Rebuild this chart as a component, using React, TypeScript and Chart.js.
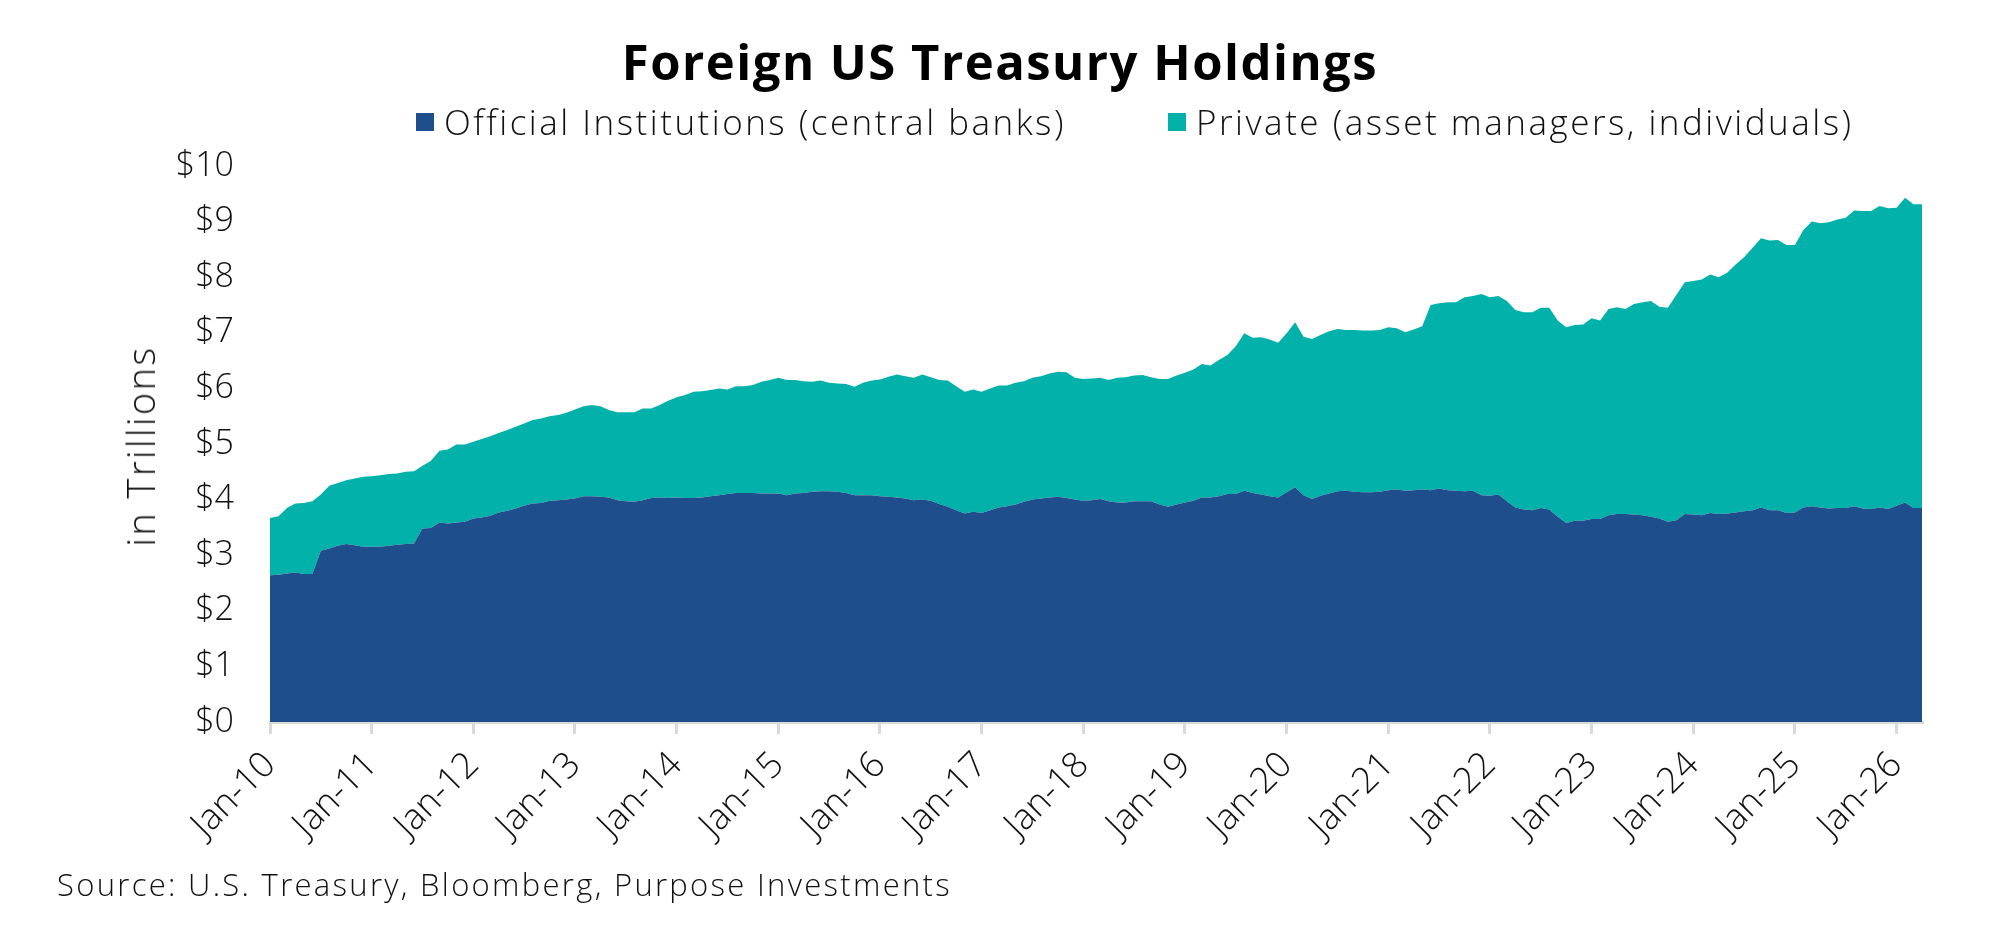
import React, { useEffect, useRef } from 'react';
import { Chart, registerables } from 'chart.js';

Chart.register(...registerables);

// monthly, Jan-10 .. Apr-26, $ trillions
const official = [
  2.64, 2.65, 2.67, 2.69, 2.66, 2.66, 3.08, 3.12, 3.17, 3.2, 3.18, 3.15, // 2010
  3.15, 3.15, 3.17, 3.19, 3.2, 3.21, 3.48, 3.49, 3.59, 3.57, 3.59, 3.6, // 2011
  3.66, 3.68, 3.71, 3.77, 3.8, 3.84, 3.89, 3.93, 3.94, 3.98, 3.99, 4.0, // 2012
  4.02, 4.06, 4.06, 4.05, 4.04, 3.99, 3.97, 3.96, 3.99, 4.03, 4.04, 4.03, // 2013
  4.04, 4.03, 4.03, 4.04, 4.06, 4.08, 4.1, 4.12, 4.12, 4.12, 4.11, 4.11, // 2014
  4.11, 4.08, 4.11, 4.12, 4.14, 4.15, 4.15, 4.14, 4.12, 4.08, 4.08, 4.08, // 2015
  4.06, 4.05, 4.04, 4.02, 3.99, 4.0, 3.98, 3.92, 3.87, 3.81, 3.75, 3.78, // 2016
  3.76, 3.81, 3.86, 3.88, 3.91, 3.96, 4.0, 4.02, 4.04, 4.05, 4.03, 4.0, // 2017
  3.98, 3.99, 4.01, 3.97, 3.95, 3.95, 3.97, 3.97, 3.97, 3.91, 3.87, 3.91, // 2018
  3.95, 3.98, 4.04, 4.04, 4.06, 4.1, 4.1, 4.16, 4.12, 4.09, 4.06, 4.04, // 2019
  4.13, 4.22, 4.08, 4.01, 4.07, 4.11, 4.15, 4.16, 4.14, 4.13, 4.13, 4.14, // 2020
  4.17, 4.18, 4.16, 4.17, 4.18, 4.17, 4.2, 4.17, 4.16, 4.15, 4.16, 4.08, // 2021
  4.07, 4.09, 3.97, 3.86, 3.82, 3.81, 3.85, 3.82, 3.69, 3.58, 3.62, 3.62, // 2022
  3.65, 3.65, 3.72, 3.74, 3.74, 3.73, 3.72, 3.69, 3.66, 3.6, 3.63, 3.74, // 2023
  3.73, 3.72, 3.76, 3.74, 3.75, 3.77, 3.79, 3.81, 3.86, 3.81, 3.81, 3.76, // 2024
  3.77, 3.86, 3.88, 3.86, 3.84, 3.85, 3.85, 3.88, 3.84, 3.83, 3.86, 3.83, // 2025
  3.89, 3.95, 3.85, 3.85, // 2026
];

// official + private
const total = [
  3.67, 3.7, 3.85, 3.93, 3.94, 3.97, 4.09, 4.25, 4.3, 4.35, 4.38, 4.41, // 2010
  4.42, 4.44, 4.46, 4.47, 4.5, 4.51, 4.61, 4.7, 4.88, 4.9, 4.99, 4.99, // 2011
  5.04, 5.09, 5.14, 5.2, 5.25, 5.31, 5.37, 5.43, 5.46, 5.5, 5.52, 5.56, // 2012
  5.62, 5.68, 5.7, 5.68, 5.61, 5.57, 5.57, 5.57, 5.64, 5.64, 5.7, 5.78, // 2013
  5.84, 5.88, 5.94, 5.95, 5.97, 6.0, 5.98, 6.04, 6.04, 6.06, 6.12, 6.15, // 2014
  6.19, 6.15, 6.15, 6.13, 6.12, 6.14, 6.1, 6.09, 6.08, 6.03, 6.1, 6.14, // 2015
  6.16, 6.21, 6.25, 6.22, 6.19, 6.25, 6.2, 6.15, 6.14, 6.04, 5.94, 5.98, // 2016
  5.94, 6.0, 6.05, 6.05, 6.1, 6.13, 6.19, 6.22, 6.27, 6.3, 6.29, 6.19, // 2017
  6.17, 6.18, 6.19, 6.15, 6.19, 6.2, 6.23, 6.24, 6.2, 6.17, 6.17, 6.23, // 2018
  6.28, 6.34, 6.44, 6.41, 6.51, 6.6, 6.76, 6.99, 6.91, 6.92, 6.88, 6.82, // 2019
  6.99, 7.19, 6.93, 6.89, 6.96, 7.03, 7.07, 7.05, 7.05, 7.04, 7.04, 7.05, // 2020
  7.1, 7.08, 7.01, 7.06, 7.12, 7.5, 7.53, 7.55, 7.55, 7.64, 7.66, 7.7, // 2021
  7.64, 7.66, 7.57, 7.41, 7.37, 7.37, 7.45, 7.45, 7.22, 7.1, 7.14, 7.15, // 2022
  7.26, 7.22, 7.43, 7.46, 7.43, 7.52, 7.55, 7.57, 7.47, 7.45, 7.68, 7.91, // 2023
  7.93, 7.96, 8.05, 8.0, 8.08, 8.23, 8.36, 8.53, 8.7, 8.66, 8.67, 8.58, // 2024
  8.58, 8.85, 9.0, 8.97, 8.99, 9.04, 9.07, 9.2, 9.19, 9.19, 9.28, 9.24, // 2025
  9.25, 9.43, 9.31, 9.31, // 2026
];

const monthNames = ['Jan', 'Feb', 'Mar', 'Apr', 'May', 'Jun', 'Jul', 'Aug', 'Sep', 'Oct', 'Nov', 'Dec'];
const months = official.map(
  (_, i) => `${monthNames[i % 12]}-${String(10 + Math.floor(i / 12)).padStart(2, '0')}`
);

const yTicks = [0, 1, 2, 3, 4, 5, 6, 7, 8, 9, 10];

const BLUE = '#1f4e8c';
const TEAL = '#02b2aa';
const FONT = "'Open Sans', sans-serif";

export default function App() {
  const canvasRef = useRef<HTMLCanvasElement>(null);
  const chartRef = useRef<Chart | null>(null);

  useEffect(() => {
    if (!canvasRef.current) return;
    if (chartRef.current) chartRef.current.destroy();

    chartRef.current = new Chart(canvasRef.current, {
      type: 'line',
      data: {
        labels: months,
        datasets: [
          {
            label: 'Official Institutions (central banks)',
            data: official,
            backgroundColor: BLUE,
            borderWidth: 0,
            pointRadius: 0,
            fill: 'origin',
          },
          {
            label: 'Private (asset managers, individuals)',
            data: total,
            backgroundColor: TEAL,
            borderWidth: 0,
            pointRadius: 0,
            fill: '-1',
          },
        ],
      },
      options: {
        responsive: false,
        animation: false,
        layout: { padding: { top: 166, right: 78, bottom: 91, left: 100 } },
        plugins: {
          legend: { display: false },
          title: { display: false },
          tooltip: { enabled: false },
        },
        scales: {
          x: {
            grid: {
              drawOnChartArea: false,
              drawTicks: true,
              tickLength: 12,
              color: '#d9d9d9',
              lineWidth: 3,
            },
            border: { display: true, color: '#d9d9d9', width: 3 },
            ticks: {
              autoSkip: false,
              maxRotation: 45,
              minRotation: 45,
              padding: 10,
              color: '#111',
              font: { family: FONT, size: 36, weight: 300 },
              callback: function (value) {
                const l = this.getLabelForValue(value as number);
                return l.startsWith('Jan') ? l : null;
              },
            },
            afterFit: (scale) => {
              scale.height = 130;
            },
          },
          y: {
            min: 0,
            max: 10,
            afterBuildTicks: (scale) => {
              scale.ticks = yTicks.map((v) => ({ value: v }));
            },
            grid: { display: false, drawTicks: false },
            border: { display: false },
            ticks: {
              padding: 36,
              color: '#111',
              font: { family: FONT, size: 34, weight: 300 },
              callback: (v) => '$' + v,
            },
            afterFit: (scale) => {
              scale.width = 170;
            },
          },
        },
      },
    });

    return () => {
      if (chartRef.current) {
        chartRef.current.destroy();
        chartRef.current = null;
      }
    };
  }, []);

  const legendText: React.CSSProperties = {
    position: 'absolute',
    top: 100,
    fontFamily: FONT,
    fontWeight: 300,
    fontSize: 35,
    letterSpacing: '2.5px',
    lineHeight: '44px',
    color: '#111',
    whiteSpace: 'nowrap',
    display: 'flex',
    alignItems: 'center',
  };
  const box = (c: string): React.CSSProperties => ({
    display: 'inline-block',
    width: 18,
    height: 18,
    background: c,
    marginRight: 10,
  });

  return (
    <div
      style={{
        position: 'absolute',
        left: 0,
        top: 0,
        width: 2000,
        height: 943,
        background: '#fff',
        overflow: 'hidden',
      }}
    >
      <canvas ref={canvasRef} width={2000} height={943} />
      <div
        style={{
          position: 'absolute',
          top: 30,
          left: 0,
          width: 2000,
          textAlign: 'center',
          fontFamily: FONT,
          fontWeight: 700,
          fontSize: 49,
          letterSpacing: '1.5px',
          lineHeight: '62px',
          color: '#000',
        }}
      >
        Foreign US Treasury Holdings
      </div>
      <div style={{ ...legendText, left: 416 }}>
        <span style={box(BLUE)} />
        Official Institutions (central banks)
      </div>
      <div style={{ ...legendText, left: 1168 }}>
        <span style={box(TEAL)} />
        Private (asset managers, individuals)
      </div>
      <div
        style={{
          position: 'absolute',
          left: 140,
          top: 446,
          transform: 'translate(-50%, -50%) rotate(-90deg)',
          fontFamily: FONT,
          fontWeight: 300,
          fontSize: 38,
          letterSpacing: '2.4px',
          lineHeight: '46px',
          color: '#111',
          whiteSpace: 'nowrap',
        }}
      >
        in Trillions
      </div>
      <div
        style={{
          position: 'absolute',
          top: 862,
          left: 57,
          fontFamily: FONT,
          fontWeight: 300,
          fontSize: 31,
          letterSpacing: '2.3px',
          lineHeight: '44px',
          color: '#111',
          whiteSpace: 'nowrap',
        }}
      >
        Source: U.S. Treasury, Bloomberg, Purpose Investments
      </div>
    </div>
  );
}
